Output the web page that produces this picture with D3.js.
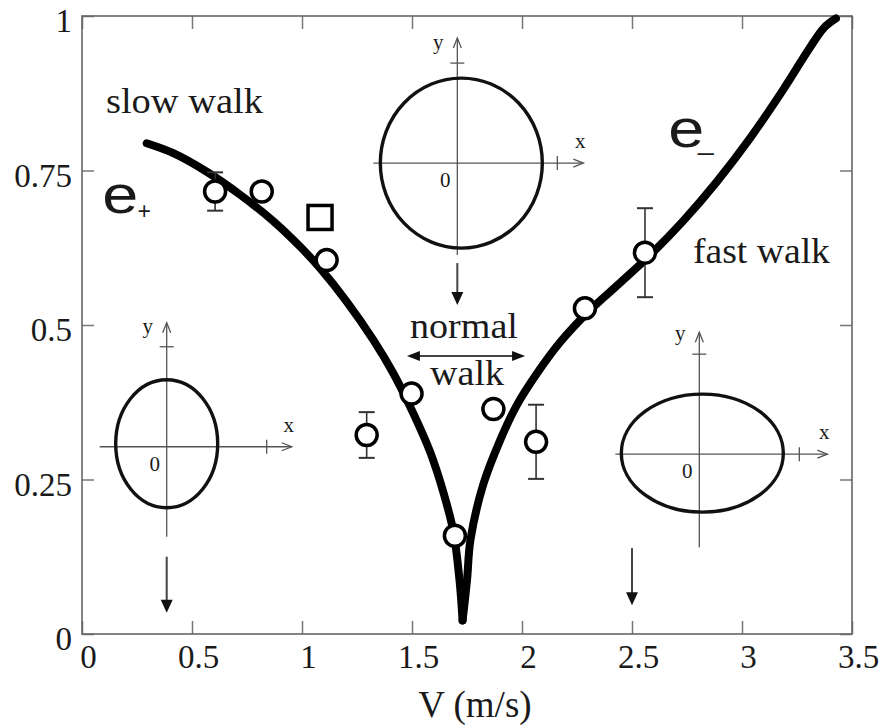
<!DOCTYPE html>
<html>
<head>
<meta charset="utf-8">
<script src="https://cdn.jsdelivr.net/npm/d3@7"></script>
<style>
  body { margin: 0; background: #fff; }
  svg { display: block; }
</style>
</head>
<body>
<svg id="chart" width="884" height="727"></svg>
<script>
// Theoretical eccentricity branches, sampled as [V (m/s), e]
const ePlusCurve = [
  [0.294, 0.794], [0.415, 0.778], [0.567, 0.748], [0.718, 0.711], [0.870, 0.668],
  [0.991, 0.627], [1.082, 0.592], [1.203, 0.538], [1.324, 0.476], [1.415, 0.422],
  [1.506, 0.357], [1.582, 0.295], [1.642, 0.230], [1.688, 0.166], [1.716, 0.087],
  [1.730, 0.022]
];
const eMinusCurve = [
  [1.730, 0.022], [1.750, 0.087], [1.766, 0.153], [1.824, 0.242], [1.900, 0.313],
  [1.976, 0.370], [2.067, 0.421], [2.173, 0.472], [2.309, 0.524], [2.445, 0.568],
  [2.582, 0.613], [2.732, 0.668], [2.886, 0.732], [3.036, 0.802], [3.186, 0.880],
  [3.309, 0.949], [3.373, 0.981], [3.427, 0.996]
];

// Measured walking data (circles), with error half-widths (0 = no bar)
const speeds        = [0.605, 0.817, 1.112, 1.294, 1.498, 1.695, 1.870, 2.064, 2.286, 2.559];
const eccentricity  = [0.716, 0.716, 0.605, 0.322, 0.389, 0.159, 0.364, 0.311, 0.527, 0.617];
const errorHalf     = [0.031, 0,     0,     0.037, 0,     0,     0,     0.060, 0,     0.072];
// Single square marker
const squareSpeed = [1.082];
const squareEcc   = [0.674];

const xTicks = [0, 0.5, 1, 1.5, 2, 2.5, 3, 3.5];
const xTickLabels = ["0", "0.5", "1", "1.5", "2", "2.5", "3", "3.5"];
const yTicks = [0, 0.25, 0.5, 0.75, 1];
const yTickLabels = ["0", "0.25", "0.5", "0.75", "1"];

const SERIF = "'Liberation Serif', 'Times New Roman', serif";
const SANS = "'Liberation Sans', Arial, sans-serif";
const INK = "#1a1a1a";

const svg = d3.select("#chart");
svg.append("rect").attr("width", 884).attr("height", 727).attr("fill", "#fff");

const x = d3.scaleLinear().domain([0, 3.5]).range([82, 852]);
const y = d3.scaleLinear().domain([0, 1]).range([634, 16]);

// ---- axes (inward ticks on all four sides) ----
function styleAxis(g) {
  g.select(".domain").remove();
  g.selectAll(".tick line").attr("stroke", "#777").attr("stroke-width", 1.5);
  g.selectAll(".tick text")
    .attr("font-family", SERIF).attr("font-size", 33).attr("fill", INK);
}
const gxB = svg.append("g").attr("transform", `translate(0,${y(0)})`)
  .call(d3.axisBottom(x).tickValues(xTicks).tickFormat((d, i) => xTickLabels[i])
    .tickSize(-13).tickPadding(11));
styleAxis(gxB);
gxB.selectAll(".tick text").attr("dx", 6);

const gxT = svg.append("g").attr("transform", `translate(0,${y(1)})`)
  .call(d3.axisTop(x).tickValues(xTicks).tickFormat("").tickSize(-13));
styleAxis(gxT);

const gyL = svg.append("g").attr("transform", `translate(${x(0)},0)`)
  .call(d3.axisLeft(y).tickValues(yTicks).tickFormat((d, i) => yTickLabels[i])
    .tickSize(-12).tickPadding(10));
styleAxis(gyL);
gyL.selectAll(".tick text").attr("dy", "0.47em");

const gyR = svg.append("g").attr("transform", `translate(${x(3.5)},0)`)
  .call(d3.axisRight(y).tickValues(yTicks).tickFormat("").tickSize(-12));
styleAxis(gyR);

svg.append("rect")
  .attr("x", x(0)).attr("y", y(1))
  .attr("width", x(3.5) - x(0)).attr("height", y(0) - y(1))
  .attr("fill", "none").attr("stroke", "#666").attr("stroke-width", 1.6);

svg.append("text")
  .attr("x", x(1.786)).attr("y", y(0) + 83)
  .attr("text-anchor", "middle")
  .attr("font-family", SERIF).attr("font-size", 37).attr("fill", INK)
  .text("V (m/s)");

// ---- helpers for arrows ----
function downArrow(g, ax, y0, y1) {
  g.append("line").attr("x1", ax).attr("x2", ax).attr("y1", y0).attr("y2", y1 - 10)
    .attr("stroke", "#444").attr("stroke-width", 2);
  g.append("path")
    .attr("d", `M${ax - 6},${y1 - 13} L${ax + 6},${y1 - 13} L${ax},${y1} Z`)
    .attr("fill", "#111");
}

// ---- orbit-shape insets ----
const insetLayout = [
  { v: 1.706, e: 0.762, cx: 4, cy: 0,  rx: 81, ry: 85, hx: [-84, 126], vy: [-125, 92], arrowV: 1.706, arrow: [100, 142] },
  { v: 0.385, e: 0.303, cx: 0, cy: -3, rx: 51, ry: 64, hx: [-67, 125], vy: [-124, 90], arrowV: 0.385, arrow: [110, 166] },
  { v: 2.806, e: 0.291, cx: 3, cy: -1, rx: 81, ry: 59, hx: [-84, 128], vy: [-122, 93], arrowV: 2.5,   arrow: [94, 151] }
];

insetLayout.forEach(s => {
  const ox = x(s.v), oy = y(s.e);
  const g = svg.append("g").attr("transform", `translate(${ox},${oy})`);
  const axisStroke = { stroke: "#555", "stroke-width": 1.3, fill: "none" };
  const put = (sel, attrs) => { Object.entries(attrs).forEach(([k, v]) => sel.attr(k, v)); return sel; };

  // horizontal axis with open head
  put(g.append("line").attr("x1", s.hx[0]).attr("x2", s.hx[1]).attr("y1", 0).attr("y2", 0), axisStroke);
  put(g.append("path").attr("d", `M${s.hx[1] - 10},-4 L${s.hx[1]},0 L${s.hx[1] - 10},4`), axisStroke);
  // vertical axis with open head
  put(g.append("line").attr("x1", 0).attr("x2", 0).attr("y1", s.vy[0]).attr("y2", s.vy[1]), axisStroke);
  put(g.append("path").attr("d", `M-4,${s.vy[0] + 10} L0,${s.vy[0]} L4,${s.vy[0] + 10}`), axisStroke);
  // unit ticks
  put(g.append("line").attr("x1", 100).attr("x2", 100).attr("y1", -7).attr("y2", 7), axisStroke);
  put(g.append("line").attr("x1", -7).attr("x2", 7).attr("y1", -100).attr("y2", -100), axisStroke);

  g.append("ellipse")
    .attr("cx", s.cx).attr("cy", s.cy).attr("rx", s.rx).attr("ry", s.ry)
    .attr("fill", "none").attr("stroke", "#111").attr("stroke-width", 3.4);

  const lab = (tx, ty, t) => g.append("text")
    .attr("x", tx).attr("y", ty).attr("text-anchor", "middle")
    .attr("dominant-baseline", "central")
    .attr("font-family", SERIF).attr("font-size", 21).attr("fill", INK).text(t);
  lab(-19, -121, "y");
  lab(s.hx[1] - 3, -22, "x");
  lab(-12, 17, "0");

  downArrow(g, x(s.arrowV) - ox, s.arrow[0], s.arrow[1]);
});

// ---- "normal walk" range arrow ----
(function () {
  const ay = y(0.45), a0 = x(1.477), a1 = x(2.014);
  svg.append("line").attr("x1", a0 + 10).attr("x2", a1 - 10).attr("y1", ay).attr("y2", ay)
    .attr("stroke", "#444").attr("stroke-width", 2);
  svg.append("path").attr("d", `M${a0},${ay} L${a0 + 13},${ay - 5} L${a0 + 13},${ay + 5} Z`).attr("fill", "#111");
  svg.append("path").attr("d", `M${a1},${ay} L${a1 - 13},${ay - 5} L${a1 - 13},${ay + 5} Z`).attr("fill", "#111");
})();

// ---- theory curves ----
const line = d3.line().x(d => x(d[0])).y(d => y(d[1])).curve(d3.curveCatmullRom.alpha(0.5));
[ePlusCurve, eMinusCurve].forEach(c => {
  svg.append("path").attr("d", line(c))
    .attr("fill", "none").attr("stroke", "#000")
    .attr("stroke-width", 8).attr("stroke-linecap", "round").attr("stroke-linejoin", "round");
});

// ---- error bars ----
const pts = speeds.map((v, i) => ({ v, e: eccentricity[i], err: errorHalf[i] }));
const eb = svg.append("g");
pts.filter(p => p.err > 0).forEach(p => {
  const px = x(p.v);
  eb.append("line").attr("x1", px).attr("x2", px)
    .attr("y1", y(p.e + p.err)).attr("y2", y(p.e - p.err))
    .attr("stroke", "#333").attr("stroke-width", 1.6);
  [p.e + p.err, p.e - p.err].forEach(val => {
    eb.append("line").attr("x1", px - 8).attr("x2", px + 8)
      .attr("y1", y(val)).attr("y2", y(val))
      .attr("stroke", "#333").attr("stroke-width", 2);
  });
});

// ---- markers ----
svg.append("g").selectAll("circle").data(pts).join("circle")
  .attr("cx", d => x(d.v)).attr("cy", d => y(d.e)).attr("r", 10.5)
  .attr("fill", "#fff").attr("stroke", "#000").attr("stroke-width", 3.5);

svg.append("g").selectAll("rect").data(squareSpeed.map((v, i) => ({ v, e: squareEcc[i] }))).join("rect")
  .attr("x", d => x(d.v) - 12).attr("y", d => y(d.e) - 12)
  .attr("width", 24).attr("height", 24)
  .attr("fill", "#fff").attr("stroke", "#000").attr("stroke-width", 3.5);

// ---- annotations ----
function serifLabel(v, e, t, len, anchor) {
  svg.append("text").attr("x", x(v)).attr("y", y(e))
    .attr("text-anchor", anchor || "start")
    .attr("font-family", SERIF).attr("font-size", 36).attr("fill", INK)
    .attr("textLength", len).attr("lengthAdjust", "spacingAndGlyphs")
    .text(t);
}
serifLabel(0.109, 0.843, "slow walk", 157);
serifLabel(2.777, 0.600, "fast walk", 137);
serifLabel(1.736, 0.479, "normal", 108, "middle");
serifLabel(1.750, 0.403, "walk", 74, "middle");

// e+ and e- branch names
svg.append("text").attr("x", x(0.092)).attr("y", y(0.681))
  .attr("font-family", SANS).attr("font-size", 53).attr("fill", INK)
  .attr("textLength", 36).attr("lengthAdjust", "spacingAndGlyphs").text("e");
svg.append("text").attr("x", x(0.283)).attr("y", y(0.671))
  .attr("text-anchor", "middle")
  .attr("font-family", SANS).attr("font-size", 23).attr("fill", INK).text("+");
svg.append("text").attr("x", x(2.665)).attr("y", y(0.788))
  .attr("font-family", SANS).attr("font-size", 53).attr("fill", INK)
  .attr("textLength", 36).attr("lengthAdjust", "spacingAndGlyphs").text("e");
svg.append("text").attr("x", x(2.80)).attr("y", y(0.785))
  .attr("font-family", SANS).attr("font-size", 28).attr("fill", INK).text("_");
</script>
</body>
</html>
